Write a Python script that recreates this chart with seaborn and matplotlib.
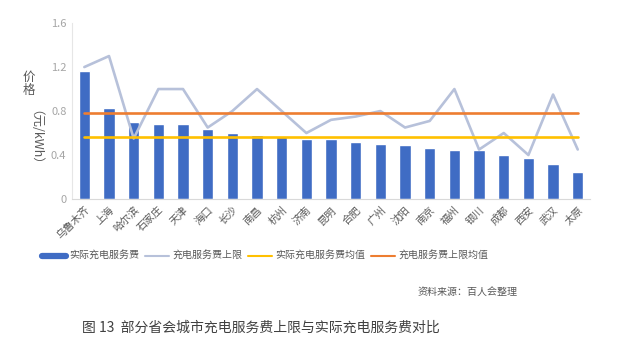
import matplotlib
matplotlib.use("Agg")
import matplotlib.pyplot as plt
from matplotlib.lines import Line2D
import seaborn as sns
import pandas as pd

cities = ["乌鲁木齐", "上海", "哈尔滨", "石家庄", "天津", "海口", "长沙", "南昌", "杭州", "济南",
          "昆明", "合肥", "广州", "沈阳", "南京", "福州", "银川", "成都", "西安", "武汉", "太原"]
actual_fee = [1.16, 0.83, 0.70, 0.68, 0.68, 0.64, 0.60, 0.58, 0.57, 0.55,
              0.55, 0.52, 0.50, 0.49, 0.46, 0.45, 0.45, 0.40, 0.37, 0.32, 0.25]
upper_limit = [1.20, 1.30, 0.55, 1.00, 1.00, 0.65, 0.80, 1.00, 0.80, 0.60,
               0.72, 0.75, 0.80, 0.65, 0.71, 1.00, 0.45, 0.60, 0.40, 0.95, 0.45]
actual_mean = 0.56
upper_mean = 0.78
yticks = [0, 0.4, 0.8, 1.2, 1.6]
ytick_labels = ["0", "0.4", "0.8", "1.2", "1.6"]
series_names = ["实际充电服务费", "充电服务费上限", "实际充电服务费均值", "充电服务费上限均值"]

BAR = "#3F6CC4"
UPPER = "#B7C1DA"
YEL = "#FFC000"
ORA = "#ED7D31"

sns.set_theme(style="white")
plt.rcParams["font.family"] = ["Noto Sans CJK SC", "DejaVu Sans"]

df = pd.DataFrame({"city": cities, "actual": actual_fee, "upper": upper_limit,
                   "amean": [actual_mean] * len(cities), "umean": [upper_mean] * len(cities)})

fig = plt.figure(figsize=(6.4, 3.47), dpi=100)
ax = fig.add_axes([0.1125, 0.4265, 0.8095, 0.507])

sns.barplot(data=df, x="city", y="actual", color=BAR, saturation=1, width=0.46, ax=ax, zorder=2)
sns.pointplot(data=df, x="city", y="upper", color=UPPER, markers="", linewidth=1.9, ax=ax, zorder=3)
sns.pointplot(data=df, x="city", y="amean", color=YEL, markers="", linewidth=1.9, ax=ax, zorder=4)
sns.pointplot(data=df, x="city", y="umean", color=ORA, markers="", linewidth=1.9, ax=ax, zorder=4)

ax.set_xlim(-0.5, len(cities) - 0.5)
ax.set_ylim(0, 1.6)
ax.set_yticks(yticks)
ax.set_yticklabels(ytick_labels, color="#A6A6A6", fontsize=8)
ax.set_xticks(range(len(cities)))
ax.set_xticklabels(cities, rotation=45, ha="right", rotation_mode="anchor",
                   color="#595959", fontsize=7.5)
ax.tick_params(axis="both", length=0, pad=4)
ax.set_xlabel("")
ax.set_ylabel("")
for s in ["top", "right"]:
    ax.spines[s].set_visible(False)
ax.spines["left"].set_color("#E6E6E6")
ax.spines["bottom"].set_color("#D9D9D9")
ax.spines["left"].set_linewidth(0.8)
ax.spines["bottom"].set_linewidth(0.8)

# y-axis title: stacked upright 价格 + rotated units
fig.text(0.045, 0.757, "价\n格", ha="center", va="center", fontsize=9,
         color="#595959", linespacing=1.0)
fig.text(0.045, 0.585, "（元/kWh）", ha="center", va="center", fontsize=9,
         color="#595959", rotation=270)

handles = [Line2D([0], [0], color=BAR, lw=4.5),
           Line2D([0], [0], color=UPPER, lw=1.5),
           Line2D([0], [0], color=YEL, lw=1.5),
           Line2D([0], [0], color=ORA, lw=1.5)]
leg = fig.legend(handles, series_names, loc="center", bbox_to_anchor=(0.414, 0.262), ncol=4,
                 frameon=False, fontsize=7.2, handlelength=2.4, handletextpad=0.3,
                 columnspacing=0.6)
for t in leg.get_texts():
    t.set_color("#595959")

fig.text(0.808, 0.16, "资料来源：百人会整理", ha="right", va="center", fontsize=7.2, color="#595959")
fig.text(0.128, 0.055, "图 13  部分省会城市充电服务费上限与实际充电服务费对比", ha="left",
         va="center", fontsize=10, color="#404040")

fig.savefig("out.png", dpi=100)
